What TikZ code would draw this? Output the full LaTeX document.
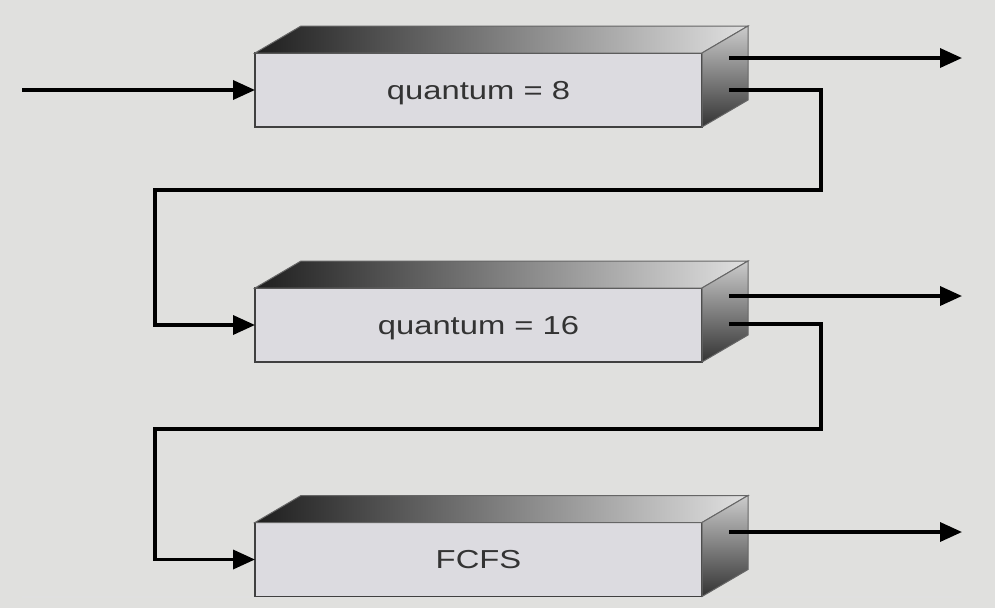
\documentclass[tikz,border=0pt]{standalone}
\usepackage{fontspec}
\setmainfont{Liberation Sans}
\newfontfamily\queuefont[FakeStretch=1.26]{Liberation Sans}
\usetikzlibrary{arrows.meta}
\definecolor{slidebg}{HTML}{E0E0DE}
\definecolor{frontface}{HTML}{DCDBE0}

\begin{document}
\begin{tikzpicture}[x=1pt,y=-1pt,
    queue/.style={draw=black!75,line width=1.5pt,fill=frontface,inner sep=0pt,outer sep=0pt,
        minimum width=447pt,minimum height=74pt,text=black!80,text depth=0pt,
        font=\queuefont\fontsize{26}{31}\selectfont},
    flow/.style={draw=black,line width=3.5pt,-{Triangle[length=22pt,width=19pt]}}]
    \fill [slidebg] (0,0) rectangle (995,608);
    \useasboundingbox (0,0) rectangle (995,608);
    \draw [draw=black!12,line width=1.5pt] (22,597) to (962,597);
    % the three queues
    \node (q1) [queue] at (478.5,90) {quantum = 8};
    \node (q2) [queue] at (478.5,325) {quantum = 16};
    \node (q3) [queue] at (478.5,559.5) {FCFS};
    \foreach \q in {q1,q2,q3} {
        \shade [left color=black!88,right color=black!12,draw=black!60,line width=1pt]
            (\q.north west) -- ++(46,-27) -- ++(447,0) -- (\q.north east) -- cycle;
        \shade [top color=black!20,bottom color=black!80,draw=black!60,line width=1pt]
            (\q.north east) -- ++(46,-27) -- ++(0,74) -- (\q.south east) -- cycle;
    }
    % ends of the connectors
    \coordinate (start) at (22,90);
    \coordinate (q1hi) at (729,58);
    \coordinate (q1lo) at (729,90);
    \coordinate (q2hi) at (729,296);
    \coordinate (q2lo) at (729,324);
    \coordinate (q3hi) at (729,532);
    \coordinate (done1) at (962,58);
    \coordinate (done2) at (962,296);
    \coordinate (done3) at (962,532);
    \coordinate (turn1) at (821,190);
    \coordinate (back1) at (155,190);
    \coordinate (turn2) at (821,429);
    \coordinate (back2) at (155,429);
    \draw [flow] (start) to (q1.west);
    \draw [flow] (q1hi) to (done1);
    \draw [flow] (q2hi) to (done2);
    \draw [flow] (q3hi) to (done3);
    \draw [flow] (q1lo) -| (turn1) -- (back1) |- (q2.west);
    \draw [flow] (q2lo) -| (turn2) -- (back2) |- (q3.west);
\end{tikzpicture}
\end{document}
